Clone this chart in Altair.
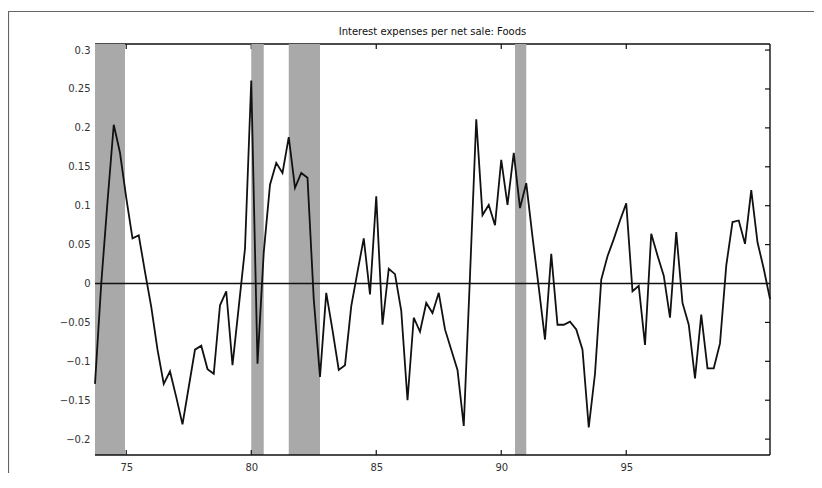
import altair as alt
import pandas as pd

title_text = "Interest expenses per net sale: Foods"

values = [
    -0.129, 0.000, 0.105, 0.204, 0.168, 0.110, 0.058, 0.062, 0.015, -0.030,
    -0.085, -0.129, -0.113, -0.146, -0.181, -0.133, -0.085, -0.080, -0.110, -0.116,
    -0.028, -0.010, -0.105, -0.030, 0.045, 0.261, -0.103, 0.040, 0.127, 0.155,
    0.142, 0.188, 0.123, 0.142, 0.136, -0.020, -0.120, -0.012, -0.060, -0.111,
    -0.105, -0.029, 0.015, 0.058, -0.014, 0.112, -0.053, 0.019, 0.012, -0.035,
    -0.150, -0.044, -0.062, -0.025, -0.038, -0.012, -0.059, -0.085, -0.111, -0.183,
    0.010, 0.211, 0.088, 0.101, 0.075, 0.159, 0.101, 0.168, 0.097, 0.129,
    0.060, -0.005, -0.072, 0.038, -0.053, -0.053, -0.049, -0.059, -0.085, -0.185,
    -0.116, 0.005, 0.035, 0.057, 0.081, 0.103, -0.010, -0.003, -0.079, 0.064,
    0.036, 0.010, -0.044, 0.066, -0.025, -0.053, -0.122, -0.040, -0.109, -0.109,
    -0.077, 0.023, 0.079, 0.081, 0.051, 0.120, 0.053, 0.019, -0.020,
]
first_year = 73.75
years = [first_year + 0.25 * i for i in range(len(values))]

# shaded recession periods
band_start = [73.75, 80.0, 81.5, 90.55]
band_end = [74.95, 80.5, 82.75, 91.0]

x_ticks = [75, 80, 85, 90, 95]
y_ticks = [-0.2, -0.15, -0.1, -0.05, 0, 0.05, 0.1, 0.15, 0.2, 0.25, 0.3]

x_domain = [73.75, 100.75]
y_domain = [-0.2204, 0.3078]

W, H = 675, 411

series = pd.DataFrame({"year": years, "value": values})
bands = pd.DataFrame({"year": band_start, "year_end": band_end})
xt = pd.DataFrame({"year": x_ticks})
yt = pd.DataFrame({"value": y_ticks})
zero = pd.DataFrame({"value": [0]})
one = pd.DataFrame({"k": [0]})

xs = alt.Scale(domain=x_domain, nice=False, zero=False)
ys = alt.Scale(domain=y_domain, nice=False, zero=False)

FONT = "DejaVu Sans"
INK = "#111111"

x_axis = alt.Axis(
    values=x_ticks, format="d", title=None, grid=False, ticks=False, tickSize=0,
    domain=False, labelFont=FONT, labelFontSize=10, labelColor="#333333",
    labelPadding=7, labelFlush=False,
)
y_axis = alt.Axis(
    values=y_ticks, format="~g", title=None, grid=False, ticks=False, tickSize=0,
    domain=False, labelFont=FONT, labelFontSize=10, labelColor="#333333",
    labelPadding=5, labelFlush=False,
)

def X(field="year:Q"):
    return alt.X(field, scale=xs, axis=x_axis)

def Y(field="value:Q"):
    return alt.Y(field, scale=ys, axis=y_axis)

# outer figure frame (scan border)
frame = alt.Chart(one).mark_rect(fillOpacity=0, stroke="#666666", strokeWidth=1.2).encode(
    x=alt.value(-86.5), x2=alt.value(760), y=alt.value(-32.5), y2=alt.value(520)
)

top_border = alt.Chart(one).mark_rule(color=INK, strokeWidth=1.4).encode(
    x=alt.value(0), x2=alt.value(W), y=alt.value(0)
)
top_ticks = alt.Chart(xt).mark_rule(color=INK, strokeWidth=1.2).encode(
    x=X(), y=alt.value(0), y2=alt.value(5)
)
left_ticks = alt.Chart(yt).mark_rule(color=INK, strokeWidth=1.2).encode(
    y=Y(), x=alt.value(0), x2=alt.value(5)
)

band_layer = alt.Chart(bands).mark_rect(color="#a9a9a9", opacity=1).encode(
    x=X(),
    x2="year_end:Q",
    y=alt.value(0),
    y2=alt.value(H),
)

zero_line = alt.Chart(zero).mark_rule(color=INK, strokeWidth=1.3).encode(y=Y())

line = alt.Chart(series).mark_line(color=INK, strokeWidth=1.8, strokeJoin="miter").encode(
    x=X(), y=Y()
)

bottom_border = alt.Chart(one).mark_rule(color=INK, strokeWidth=1.4).encode(
    x=alt.value(0), x2=alt.value(W), y=alt.value(H)
)
right_border = alt.Chart(one).mark_rule(color=INK, strokeWidth=1.4).encode(
    x=alt.value(W), y=alt.value(0), y2=alt.value(H)
)
bottom_ticks = alt.Chart(xt).mark_rule(color=INK, strokeWidth=1.2).encode(
    x=X(), y=alt.value(H), y2=alt.value(H - 5)
)
right_ticks = alt.Chart(yt).mark_rule(color=INK, strokeWidth=1.2).encode(
    y=Y(), x=alt.value(W), x2=alt.value(W - 5)
)

title = alt.Chart(one).mark_text(
    text=title_text, font=FONT, fontSize=10, color=INK, align="center", baseline="middle"
).encode(x=alt.value(W / 2), y=alt.value(-12))

chart = alt.layer(
    frame, top_border, top_ticks, left_ticks, band_layer, zero_line, line,
    bottom_border, right_border, bottom_ticks, right_ticks, title,
).properties(
    width=W,
    height=H,
    autosize=alt.AutoSizeParams(type="none"),
    padding={"left": 87, "top": 36, "right": 44, "bottom": 18},
    background="white",
).configure_view(stroke=None)

chart.save("out.html", embed_options={"renderer": "svg", "actions": False})
